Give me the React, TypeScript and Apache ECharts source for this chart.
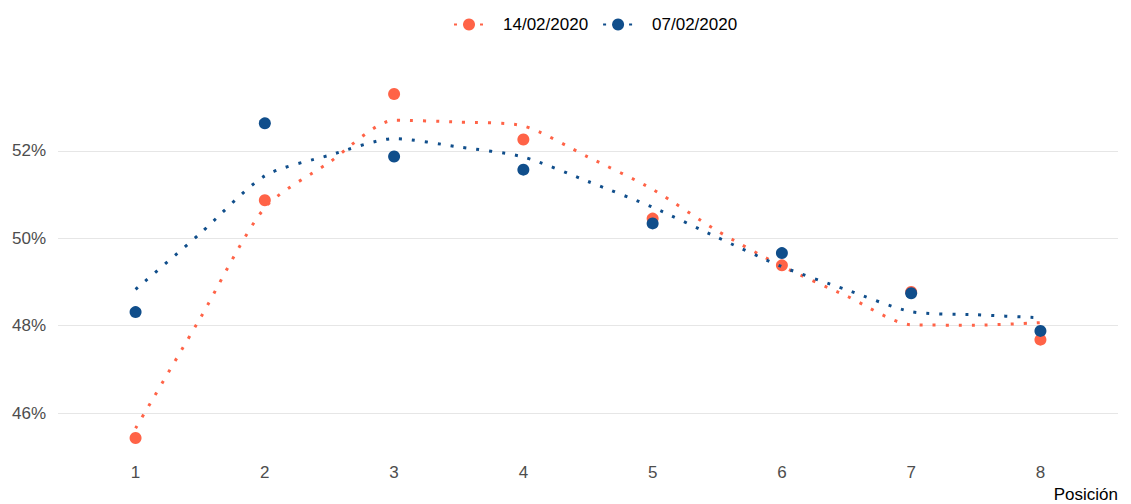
import React, { useEffect, useRef } from "react";
import * as echarts from "echarts";

const positions = [1, 2, 3, 4, 5, 6, 7, 8];
const seriesNames = ["14/02/2020", "07/02/2020"];
const orangePoints = [45.43, 50.87, 53.3, 52.26, 50.45, 49.38, 48.77, 47.68];
const bluePoints = [48.31, 52.63, 51.87, 51.57, 50.34, 49.66, 48.74, 47.88];

const smoothX = [1, 1.5, 2, 2.5, 3, 3.5, 4, 4.5, 5, 5.5, 6, 6.5, 7, 7.5, 8];
const orangeSmooth = [45.65, 48.17, 50.7, 51.74, 52.7, 52.66, 52.57, 51.86, 51.12, 50.17, 49.36, 48.68, 48.02, 48.01, 48.07];
const blueSmooth = [48.83, 50.11, 51.43, 51.9, 52.28, 52.09, 51.86, 51.3, 50.71, 50.02, 49.35, 48.82, 48.32, 48.25, 48.18];

const yTicks = [46, 48, 50, 52];
const xAxisTitle = "Posición";

const ORANGE = "#FF6347";
const BLUE = "#104E8B";
const FONT = "Liberation Sans, Arial, sans-serif";

export default function App() {
  const ref = useRef<HTMLDivElement>(null);

  useEffect(() => {
    document.body.style.margin = "0";
    if (!ref.current) return;
    const chart = echarts.init(ref.current, null, { renderer: "svg" });

    const zip = (xs: number[], ys: number[]) => xs.map((x, i) => [x, ys[i]]);

    const lineStyle = (color: string) => ({
      color,
      width: 3,
      type: [3, 10] as any,
      cap: "butt" as const,
    });

    chart.setOption({
      animation: false,
      textStyle: { fontFamily: FONT },
      legend: {
        data: seriesNames,
        left: 448,
        top: 11,
        itemWidth: 30,
        itemHeight: 15,
        itemGap: 14,
        textStyle: { fontSize: 17, color: "#000", fontFamily: FONT, padding: [0, 0, 0, 14] },
      },
      grid: { left: 58, right: 13, top: 77, bottom: 49, containLabel: false },
      xAxis: {
        type: "value",
        min: 0.4,
        max: 8.6,
        axisLine: { show: false },
        axisTick: { show: false, customValues: positions },
        splitLine: { show: false },
        axisLabel: {
          customValues: positions,
          fontSize: 17,
          color: "#4d4d4d",
          margin: 9,
          fontFamily: FONT,
        },
      },
      yAxis: {
        type: "value",
        min: 45.04,
        max: 53.69,
        axisLine: { show: false },
        axisTick: { show: false, customValues: yTicks },
        axisLabel: {
          customValues: yTicks,
          formatter: (v: number) => `${v}%`,
          fontSize: 17,
          color: "#4d4d4d",
          margin: 12,
          fontFamily: FONT,
        },
        splitLine: { show: true, lineStyle: { color: "#e6e6e6", width: 1.2 } },
      },
      graphic: [
        {
          type: "text",
          right: 13,
          top: 486,
          style: { text: xAxisTitle, fontSize: 17, fill: "#000", fontFamily: FONT },
        },
      ],
      series: [
        {
          name: seriesNames[0],
          type: "line",
          data: zip(smoothX, orangeSmooth),
          smooth: 0.25,
          showSymbol: false,
          symbol: "circle",
          symbolSize: 12,
          itemStyle: { color: ORANGE },
          lineStyle: lineStyle(ORANGE),
          silent: true,
        },
        {
          name: seriesNames[1],
          type: "line",
          data: zip(smoothX, blueSmooth),
          smooth: 0.25,
          showSymbol: false,
          symbol: "circle",
          symbolSize: 12,
          itemStyle: { color: BLUE },
          lineStyle: lineStyle(BLUE),
          silent: true,
        },
        {
          name: seriesNames[0],
          type: "scatter",
          data: zip(positions, orangePoints),
          symbol: "circle",
          symbolSize: 12,
          itemStyle: { color: ORANGE, opacity: 1 },
        },
        {
          name: seriesNames[1],
          type: "scatter",
          data: zip(positions, bluePoints),
          symbol: "circle",
          symbolSize: 12,
          itemStyle: { color: BLUE, opacity: 1 },
        },
      ],
    });

    return () => chart.dispose();
  }, []);

  return <div ref={ref} style={{ width: 1131, height: 504 }} />;
}
